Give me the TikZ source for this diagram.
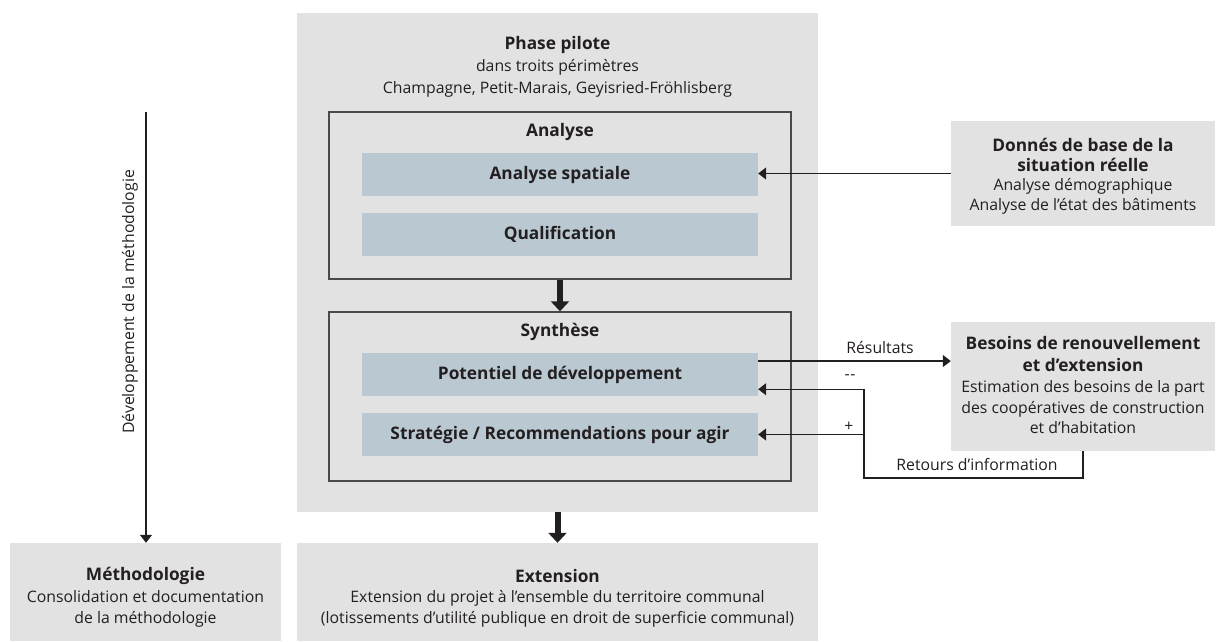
\documentclass[tikz,border=0pt]{standalone}
\usepackage{fontspec}
\setmainfont{Open Sans}
\usetikzlibrary{arrows.meta,calc}
\definecolor{boxgrey}{HTML}{E2E2E2}
\definecolor{boxblue}{HTML}{BAC8D2}
\definecolor{ink}{HTML}{231F20}
\definecolor{frameline}{HTML}{4A4A4A}
\tikzset{
  greybox/.style={fill=boxgrey,draw=none,inner sep=0pt},
  bluebox/.style={fill=boxblue,draw=none,inner sep=0pt,text=ink,font=\fontsize{17.3}{20}\selectfont\bfseries},
  framebox/.style={draw=frameline,line width=1.4pt,fill=none,inner sep=0pt},
  txt/.style={text=ink,align=center,inner sep=0pt,font=\fontsize{15.8}{20.5}\selectfont},
  head/.style={text=ink,align=center,inner sep=0pt,font=\fontsize{17.3}{20}\selectfont\bfseries},
  conn/.style={draw=ink,line width=1.3pt,-{Triangle[length=8pt,width=12pt]}},
  bigarrow/.style={draw=ink,line width=6pt,-{Triangle[length=10pt,width=18pt]}},
}
\begin{document}
\begin{tikzpicture}[x=1pt,y=-1pt]
\useasboundingbox (0,0) rectangle (1219,641);
% main boxes
\node[greybox,minimum width=521pt,minimum height=499pt] (phase) at (557.5,262.5) {};
\node[greybox,minimum width=521pt,minimum height=98pt] (extension) at (557.5,592) {};
\node[greybox,minimum width=271pt,minimum height=98pt] (methodo) at (145.5,592) {};
\node[greybox,minimum width=264pt,minimum height=105pt] (donnes) at (1083,173.5) {};
\node[greybox,minimum width=264pt,minimum height=129pt] (besoins) at (1083,386.5) {};
% frames
\node[framebox,minimum width=462pt,minimum height=167pt] (analyse) at (560,195.5) {};
\node[framebox,minimum width=462pt,minimum height=169pt] (synthese) at (560,396.5) {};
% blue boxes
\node[bluebox,minimum width=396pt,minimum height=43pt] (spatiale) at (560,174.5) {Analyse spatiale};
\node[bluebox,minimum width=396pt,minimum height=43pt] (qualif) at (560,234.5) {Qualification};
\node[bluebox,minimum width=396pt,minimum height=43pt] (potentiel) at (560,374.5) {Potentiel de développement};
\node[bluebox,minimum width=396pt,minimum height=43pt] (strategie) at (560,434.5) {Stratégie / Recommendations pour agir};
% texts
\node[head] (phasetitle) at (557.5,45) {Phase pilote};
\node[txt,font=\fontsize{15.8}{22}\selectfont] (phasetxt) at (557.5,78) {dans troits périmètres\\Champagne, Petit-Marais, Geyisried-Fröhlisberg};
\node[head] (analysetitle) at (560,132) {Analyse};
\node[head] (synthesetitle) at (560,332) {Synthèse};
\node[head] (exttitle) at (557.5,576) {Extension};
\node[txt] (exttxt) at (557.5,609) {Extension du projet à l’ensemble du territoire communal\\(lotissements d’utilité publique en droit de superficie communal)};
\node[head] (methtitle) at (145.5,576) {Méthodologie};
\node[txt] (methtxt) at (145.5,609) {Consolidation et documentation\\de la méthodologie};
\node[head,font=\fontsize{17.3}{20.5}\selectfont\bfseries] (donnestitle) at (1083,155) {Donnés de base de la\\situation réelle};
\node[txt] (donnestxt) at (1083,196.5) {Analyse démographique\\Analyse de l’état des bâtiments};
\node[head,font=\fontsize{17.3}{21.5}\selectfont\bfseries] (besoinstitle) at (1083,354) {Besoins de renouvellement\\et d’extension};
\node[txt] (besoinstxt) at (1083,407.5) {Estimation des besoins de la part\\des coopératives de construction\\et d’habitation};
% thick arrows
\draw[bigarrow] (analyse.south) -- (synthese.north);
\draw[bigarrow] (phase.south) -- (extension.north);
% left development arrow
\coordinate (devtop) at (146,112);
\draw[conn] (devtop) -- (devtop |- methodo.north);
\node[txt,rotate=90] (devlabel) at (130,302) {Développement de la méthodologie};
% data arrow
\draw[conn] (donnes.west) -- (donnes.west -| spatiale.east);
% results arrow
\coordinate (potA) at ($(potentiel.north east)!0.19!(potentiel.south east)$);
\coordinate (potB) at ($(potentiel.north east)!0.84!(potentiel.south east)$);
\draw[conn] (potA) -- (potA -| besoins.west);
\node[txt] (resultats) at (880,348) {Résultats};
% feedback loop
\coordinate (loop) at (864,478);
\draw[conn] (besoins.south) |- (loop) |- (potB);
\draw[conn] (loop |- strategie.east) -- (strategie.east);
\node[txt] (minus) at (850,377) {-\kern0.5pt-};
\node[txt] (plus) at (849,427) {+};
\node[txt] (retours) at (977,465) {Retours d’information};
\end{tikzpicture}
\end{document}
